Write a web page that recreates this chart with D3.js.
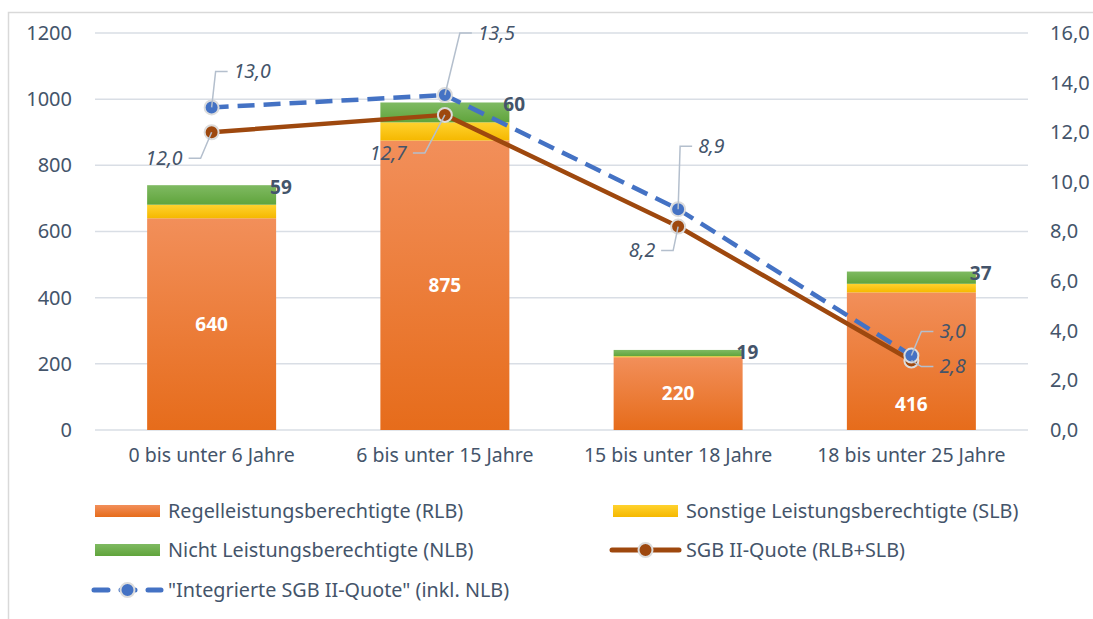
<!DOCTYPE html>
<html lang="de">
<head>
<meta charset="utf-8">
<title>SGB II-Quoten nach Altersgruppen</title>
<script src="https://d3js.org/d3.v7.min.js"></script>
<style>
  body { margin: 0; background: #fff; }
  svg text { font-family: "Noto Sans", "Open Sans", sans-serif; }
</style>
</head>
<body>
<div id="chart"></div>
<script>
// categories and values
const categories = ["0 bis unter 6 Jahre", "6 bis unter 15 Jahre", "15 bis unter 18 Jahre", "18 bis unter 25 Jahre"];
const rlb = [640, 875, 220, 416];
const slb = [41, 55, 3, 26];
const nlb = [59, 60, 19, 37];
const quote = [12.0, 12.7, 8.2, 2.8];
const quoteIntegriert = [13.0, 13.5, 8.9, 3.0];
const leftTicks = [0, 200, 400, 600, 800, 1000, 1200];
const rightTicks = [0, 2, 4, 6, 8, 10, 12, 14, 16];
const legendLabels = ["Regelleistungsberechtigte (RLB)", "Sonstige Leistungsberechtigte (SLB)",
  "Nicht Leistungsberechtigte (NLB)", "SGB II-Quote (RLB+SLB)", "\"Integrierte SGB II-Quote\" (inkl. NLB)"];

const W = 1093, H = 619;
const plot = {left: 95, right: 1028, top: 33, bottom: 430};
const textCol = "#44546A";
const gridCol = "#D9DEE5";

const svg = d3.select("#chart").append("svg")
  .attr("width", W).attr("height", H);

// outer chart frame (only top and left edge visible)
svg.append("rect")
  .attr("x", 8.5).attr("y", 12.5).attr("width", W + 20).attr("height", H + 20)
  .attr("fill", "none").attr("stroke", "#D9D9D9").attr("stroke-width", 1.5);

const defs = svg.append("defs");
function grad(id, top, bottom) {
  const g = defs.append("linearGradient").attr("id", id)
    .attr("x1", 0).attr("y1", 0).attr("x2", 0).attr("y2", 1);
  g.append("stop").attr("offset", "0%").attr("stop-color", top);
  g.append("stop").attr("offset", "100%").attr("stop-color", bottom);
}
grad("gOrange", "#F28F5A", "#E66C1B");
grad("gYellow", "#FFD22E", "#F5B800");
grad("gGreen", "#7FBA62", "#60A43C");

const x = d3.scaleBand().domain(categories).range([plot.left, plot.right]).padding(0);
const barW = x.bandwidth() * 0.553;
const cx = d => x(d) + x.bandwidth() / 2;
const yL = d3.scaleLinear().domain([0, 1200]).range([plot.bottom, plot.top]);
const yR = d3.scaleLinear().domain([0, 16]).range([plot.bottom, plot.top]);

// gridlines
svg.append("g")
  .selectAll("line").data(leftTicks).join("line")
  .attr("x1", plot.left).attr("x2", plot.right)
  .attr("y1", d => yL(d)).attr("y2", d => yL(d))
  .attr("stroke", gridCol).attr("stroke-width", 1.5);

// left axis
const axL = svg.append("g").attr("transform", `translate(${plot.left},0)`)
  .call(d3.axisLeft(yL).tickValues(leftTicks).tickSize(0).tickPadding(23).tickFormat(d3.format("d")));
axL.select(".domain").remove();
axL.selectAll("text").attr("font-size", 20).attr("fill", textCol);

// right axis
const axR = svg.append("g").attr("transform", `translate(${plot.right},0)`)
  .call(d3.axisRight(yR).tickValues(rightTicks).tickSize(0).tickPadding(22)
    .tickFormat(d => d3.format(".1f")(d).replace(".", ",")));
axR.select(".domain").remove();
axR.selectAll("text").attr("font-size", 20).attr("fill", textCol);

// bottom axis
const axB = svg.append("g").attr("transform", `translate(0,${plot.bottom})`)
  .call(d3.axisBottom(x).tickSize(0).tickPadding(18));
axB.select(".domain").remove();
axB.selectAll("text").attr("font-size", 19.5).attr("fill", textCol);

// stacked bars
const stackRows = categories.map((c, i) => ({cat: c, rlb: rlb[i], slb: slb[i], nlb: nlb[i]}));
const stacked = d3.stack().keys(["rlb", "slb", "nlb"])(stackRows);
const fills = {rlb: "url(#gOrange)", slb: "url(#gYellow)", nlb: "url(#gGreen)"};

svg.append("g").selectAll("g").data(stacked).join("g")
  .attr("fill", d => fills[d.key])
  .selectAll("rect").data(d => d).join("rect")
    .attr("x", d => cx(d.data.cat) - barW / 2)
    .attr("width", barW)
    .attr("y", d => yL(d[1]))
    .attr("height", d => yL(d[0]) - yL(d[1]));

// RLB labels inside bars (last one pushed down in the original)
const rlbShift = [0, 0, 0, 43];
svg.append("g").selectAll("text").data(stackRows).join("text")
  .attr("x", d => cx(d.cat))
  .attr("y", (d, i) => yL(d.rlb / 2) + rlbShift[i])
  .attr("dy", "0.35em")
  .attr("text-anchor", "middle")
  .attr("font-size", 19).attr("font-weight", "bold").attr("fill", "#fff")
  .text(d => d.rlb);

// NLB labels at top right of bars
svg.append("g").selectAll("text").data(stackRows).join("text")
  .attr("x", d => cx(d.cat) + barW / 2 - 6)
  .attr("y", d => yL(d.rlb + d.slb + d.nlb) + 2)
  .attr("dy", "0.35em")
  .attr("font-size", 19).attr("font-weight", "bold").attr("fill", textCol)
  .text(d => d.nlb);

// lines
const lineGen = d3.line().x((d, i) => cx(categories[i])).y(d => yR(d));
svg.append("path").datum(quote)
  .attr("d", lineGen).attr("fill", "none")
  .attr("stroke", "#9E480E").attr("stroke-width", 4.5).attr("stroke-linejoin", "round");
svg.append("path").datum(quoteIntegriert)
  .attr("d", lineGen).attr("fill", "none")
  .attr("stroke", "#4472C4").attr("stroke-width", 4.5)
  .attr("stroke-dasharray", "17,9");

function markers(vals, col) {
  svg.append("g").selectAll("circle").data(vals).join("circle")
    .attr("cx", (d, i) => cx(categories[i])).attr("cy", d => yR(d))
    .attr("r", 7).attr("fill", col)
    .attr("stroke", "#DCDCDC").attr("stroke-width", 2);
}
markers(quote, "#9E480E");
markers(quoteIntegriert, "#4472C4");

// value labels with leader lines: [dx, dy] of the label anchor from the point
const fmt = v => d3.format(".1f")(v).replace(".", ",");
function valueLabels(vals, offsets) {
  const g = svg.append("g");
  vals.forEach((v, i) => {
    const px = cx(categories[i]), py = yR(v);
    const [dx, dy, side] = offsets[i];
    const ex = px + dx, ey = py + dy;
    const hx = ex + (side === "r" ? 12 : -12);
    g.append("polyline")
      .attr("points", `${px},${py} ${ex},${ey} ${hx},${ey}`)
      .attr("fill", "none").attr("stroke", "#B4BFCD").attr("stroke-width", 1.5);
    g.append("text")
      .attr("x", hx + (side === "r" ? 6 : -6)).attr("y", ey)
      .attr("dy", "0.35em")
      .attr("text-anchor", side === "r" ? "start" : "end")
      .attr("font-size", 19.5).attr("font-style", "italic").attr("fill", textCol)
      .text(fmt(v));
  });
}
valueLabels(quoteIntegriert, [[4, -36, "r"], [15, -62, "r"], [2, -63, "r"], [10, -24, "r"]]);
valueLabels(quote, [[-11, 26, "l"], [-20, 38, "l"], [-5, 24, "l"], [10, 6, "r"]]);

// legend
const lg = svg.append("g");
const legendRows = [
  {x: 95, y: 511, type: "bar", fill: "url(#gOrange)", label: legendLabels[0]},
  {x: 613, y: 511, type: "bar", fill: "url(#gYellow)", label: legendLabels[1]},
  {x: 95, y: 550, type: "bar", fill: "url(#gGreen)", label: legendLabels[2]},
  {x: 610, y: 550, type: "line", col: "#9E480E", label: legendLabels[3]},
  {x: 92, y: 590, type: "dash", col: "#4472C4", label: legendLabels[4]}
];
legendRows.forEach(r => {
  if (r.type === "bar") {
    lg.append("rect").attr("x", r.x).attr("y", r.y - 6).attr("width", 65).attr("height", 12)
      .attr("fill", r.fill);
    lg.append("text").attr("x", r.x + 73).attr("y", r.y).attr("dy", "0.35em")
      .attr("font-size", 19.8).attr("fill", textCol).text(r.label);
  } else {
    const len = 71;
    lg.append("line").attr("x1", r.x + 2).attr("x2", r.x + len - 2).attr("y1", r.y).attr("y2", r.y)
      .attr("stroke", r.col).attr("stroke-width", 5).attr("stroke-linecap", "round")
      .attr("stroke-dasharray", r.type === "dash" ? "14,13" : null);
    lg.append("circle").attr("cx", r.x + len / 2).attr("cy", r.y).attr("r", 7)
      .attr("fill", r.col).attr("stroke", "#DCDCDC").attr("stroke-width", 2);
    lg.append("text").attr("x", r.x + len + 5).attr("y", r.y).attr("dy", "0.35em")
      .attr("font-size", 19.8).attr("fill", textCol).text(r.label);
  }
});
</script>
</body>
</html>
